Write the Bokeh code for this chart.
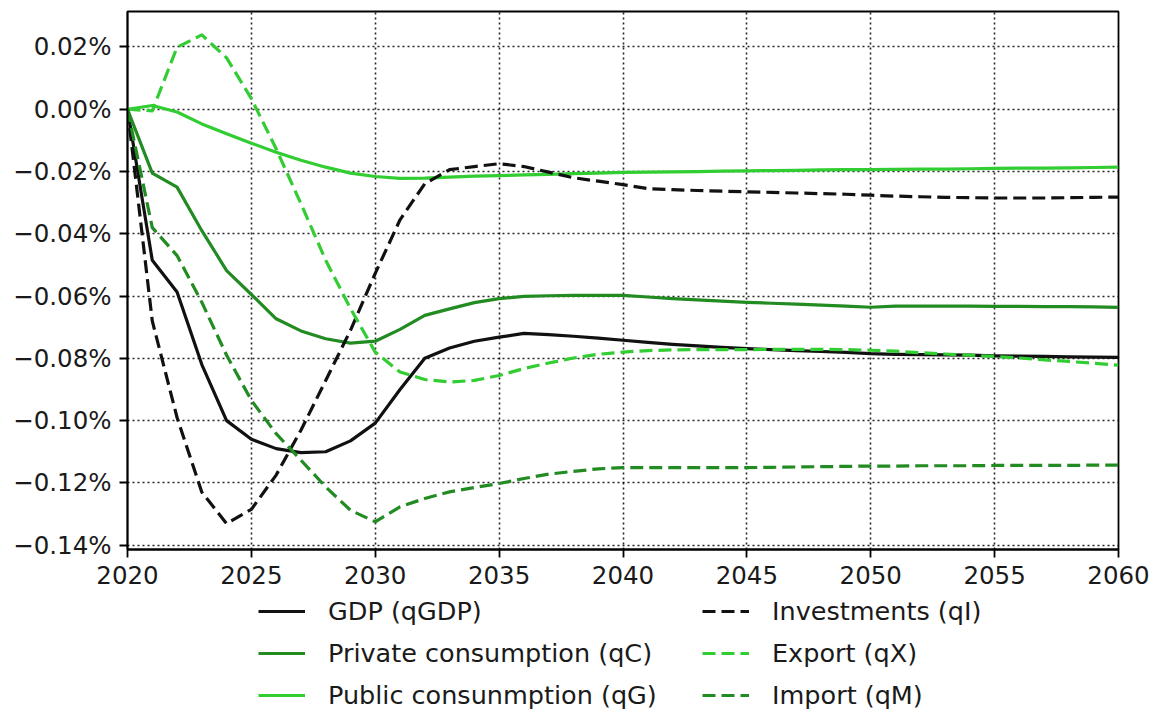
from bokeh.plotting import figure
from bokeh.layouts import column
from bokeh.models import (ColumnDataSource, FixedTicker, CustomJSTickFormatter,
                          Legend, LegendItem, Range1d)
from bokeh.embed import file_html
from bokeh.resources import INLINE

# Deviation from baseline, in percent, 2020-2060
years = list(range(2020, 2061))

gdp_q = [0, -0.0485, -0.0587, -0.082, -0.100, -0.106, -0.109, -0.1103, -0.110, -0.1065,
         -0.1008, -0.090, -0.080, -0.0767, -0.0745, -0.0732, -0.0720, -0.0724, -0.0729, -0.0735,
         -0.0742, -0.0749, -0.0755, -0.0760, -0.0765, -0.0769, -0.0772, -0.0775, -0.0778, -0.0781,
         -0.0785, -0.0787, -0.0788, -0.0789, -0.0790, -0.0792, -0.0793, -0.0794, -0.0795, -0.0796,
         -0.0797]

private_cons = [0, -0.0205, -0.025, -0.039, -0.0518, -0.0595, -0.0673, -0.0712, -0.0737, -0.0751,
                -0.0745, -0.0707, -0.0662, -0.0641, -0.0621, -0.0608, -0.0601, -0.0599, -0.0598, -0.0598,
                -0.0598, -0.0603, -0.0608, -0.0612, -0.0616, -0.0620, -0.0623, -0.0626, -0.0629, -0.0632,
                -0.0636, -0.0632, -0.0632, -0.0632, -0.0632, -0.0633, -0.0633, -0.0634, -0.0634, -0.0635,
                -0.0636]

public_cons = [0, 0.0012, -0.0009, -0.0047, -0.0079, -0.0109, -0.0138, -0.0164, -0.0186, -0.0205,
               -0.0216, -0.0222, -0.0221, -0.0218, -0.0215, -0.0213, -0.0211, -0.0209, -0.0207, -0.0205,
               -0.0203, -0.0202, -0.0201, -0.0200, -0.0199, -0.0198, -0.0197, -0.0196, -0.0195, -0.0194,
               -0.0194, -0.0193, -0.0192, -0.0192, -0.0191, -0.0190, -0.0189, -0.0189, -0.0188, -0.0187,
               -0.0186]

investments = [0, -0.068, -0.099, -0.123, -0.1331, -0.1285, -0.1175, -0.1031, -0.0871, -0.0710,
               -0.0527, -0.0355, -0.0239, -0.0194, -0.0184, -0.0175, -0.0184, -0.0202, -0.0220, -0.0231,
               -0.0242, -0.0255, -0.0258, -0.0261, -0.0263, -0.0265, -0.0267, -0.0269, -0.0271, -0.0273,
               -0.0276, -0.0279, -0.0281, -0.0283, -0.0284, -0.0285, -0.0285, -0.0285, -0.0284, -0.0283,
               -0.0282]

exports = [0, -0.0005, 0.0199, 0.0239, 0.0165, 0.0034, -0.0127, -0.0303, -0.0485, -0.0640,
           -0.0780, -0.0844, -0.0868, -0.0876, -0.0871, -0.0855, -0.0833, -0.0815, -0.0799, -0.0787,
           -0.0780, -0.0775, -0.0773, -0.0772, -0.0772, -0.0772, -0.0771, -0.0771, -0.0771, -0.0772,
           -0.0774, -0.0777, -0.0782, -0.0786, -0.0790, -0.0794, -0.0799, -0.0805, -0.0810, -0.0816,
           -0.0822]

imports = [0, -0.038, -0.047, -0.062, -0.079, -0.0935, -0.1042, -0.1127, -0.1213, -0.1288,
           -0.1325, -0.1277, -0.1250, -0.1229, -0.1215, -0.1202, -0.1186, -0.1172, -0.1163, -0.1155,
           -0.1151, -0.1151, -0.1151, -0.1151, -0.1151, -0.1151, -0.1150, -0.1149, -0.1148, -0.1147,
           -0.1146, -0.1146, -0.1145, -0.1145, -0.1145, -0.1144, -0.1144, -0.1144, -0.1144, -0.1143,
           -0.1143]

series_labels = ["GDP (qGDP)", "Private consumption (qC)", "Public consunmption (qG)",
                 "Investments (qI)", "Export (qX)", "Import (qM)"]
x_ticks = [2020, 2025, 2030, 2035, 2040, 2045, 2050, 2055, 2060]
y_ticks = [0.02, 0.0, -0.02, -0.04, -0.06, -0.08, -0.10, -0.12, -0.14]

DARK = "#228B22"
LIGHT = "#32CD32"
BLACK = "#111111"
FONT = "DejaVu Sans"

styles = [
    ("gdp", BLACK, "solid"),
    ("qc", DARK, "solid"),
    ("qg", LIGHT, "solid"),
    ("qi", BLACK, "13 6"),
    ("qx", LIGHT, "13 6"),
    ("qm", DARK, "13 6"),
]

src = ColumnDataSource(dict(year=years, gdp=gdp_q, qc=private_cons, qg=public_cons,
                            qi=investments, qx=exports, qm=imports))

# --- main chart -------------------------------------------------------------
p = figure(width=1157, height=594, output_backend="svg", toolbar_location=None,
           x_range=Range1d(2020, 2060), y_range=Range1d(-0.1414, 0.0314),
           min_border_left=127, min_border_right=39, min_border_top=11,
           min_border_bottom=45)
p.background_fill_color = "white"
p.border_fill_color = "white"
p.outline_line_color = "black"
p.outline_line_width = 1.8

for col, color, dash in styles:
    p.line("year", col, source=src, line_color=color, line_width=3.2,
           line_dash=dash, line_join="round")

for ax in (p.xaxis[0], p.yaxis[0]):
    ax.axis_line_color = "black"
    ax.axis_line_width = 1.8
    ax.major_tick_line_color = "black"
    ax.major_tick_line_width = 1.8
    ax.major_tick_out = 8
    ax.major_tick_in = 0
    ax.minor_tick_line_color = None
    ax.major_label_standoff = 8
    ax.major_label_text_font = FONT
    ax.major_label_text_font_size = "24.5px"
    ax.major_label_text_color = "#1a1a1a"

p.xaxis.ticker = FixedTicker(ticks=x_ticks)
p.yaxis.ticker = FixedTicker(ticks=y_ticks)
p.yaxis.formatter = CustomJSTickFormatter(code="""
    const v = Math.abs(tick) < 1e-9 ? 0 : tick;
    return (v < 0 ? "\u2212" : "") + Math.abs(v).toFixed(2) + "%";
""")

for g in (p.xgrid[0], p.ygrid[0]):
    g.grid_line_color = "black"
    g.grid_line_width = 1.6
    g.grid_line_dash = "2 3"
    g.grid_line_alpha = 0.85

# --- key strip under the chart ---------------------------------------------
k = figure(width=1157, height=117, output_backend="svg", toolbar_location=None,
           x_range=Range1d(0, 1), y_range=Range1d(0, 1),
           x_axis_type=None, y_axis_type=None,
           min_border_left=0, min_border_right=0, min_border_top=0, min_border_bottom=0)
k.outline_line_color = None
k.grid.visible = False
k.background_fill_color = "white"
k.border_fill_color = "white"

# off-range stand-ins so each key entry gets its line sample
key_renderers = []
for col, color, dash in styles:
    key_renderers.append(k.line(x=[-5, -4], y=[-5, -5], line_color=color,
                                line_width=3.2, line_dash=dash))

legend = Legend(
    items=[LegendItem(label=lab, renderers=[r]) for lab, r in zip(series_labels, key_renderers)],
    ncols=2, location=(131, 1),
    glyph_width=47, glyph_height=24, label_standoff=23, spacing=12,
    label_width=362, padding=3, margin=0,
    label_text_font=FONT, label_text_font_size="25.5px", label_text_color="#1a1a1a",
    border_line_color=None, background_fill_alpha=0,
)
k.add_layout(legend)

open("out.html", "w").write(file_html(column(p, k, spacing=0), INLINE))
